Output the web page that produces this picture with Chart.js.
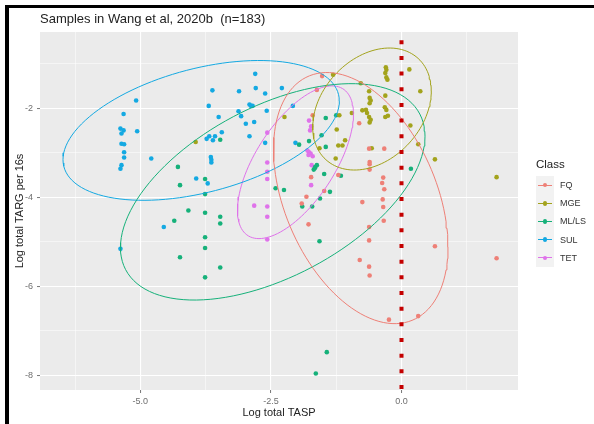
<!DOCTYPE html>
<html>
<head>
<meta charset="utf-8">
<script src="https://cdn.jsdelivr.net/npm/chart.js@4.4.1/dist/chart.umd.min.js"></script>
<style>
  html, body { margin: 0; padding: 0; overflow: hidden; background: #fff; font-family: "Liberation Sans", Arial, sans-serif; }
  #wrap { position: relative; width: 594px; height: 424px; overflow: hidden; }
  #myChart { display: block; }
  #frame { position: absolute; left: 5px; top: 5px; width: 585px; height: 416px;
           border-left: 4px solid #000; border-top: 3px solid #000; pointer-events: none; }
  #legend { position: absolute; left: 536px; top: 156px; color: #222; }
  #legend .ttl { font-size: 11.5px; height: 20px; line-height: 16px; }
  #legend .row { height: 18.2px; display: flex; align-items: center; }
  #legend .key { position: relative; width: 18px; height: 18.2px; background: #f2f2f2; }
  #legend .key .ln { position: absolute; left: 2px; right: 2px; top: 8.6px; height: 1px; }
  #legend .key .pt { position: absolute; left: 6.8px; top: 6.8px; width: 4.6px; height: 4.6px; border-radius: 50%; }
  #legend .lbl { font-size: 9px; margin-left: 6px; color: #333; }
</style>
</head>
<body>
<div id="wrap">
  <canvas id="myChart" width="594" height="424"></canvas>
  <div id="legend"></div>
  <div id="frame"></div>
</div>
<script>
// classes + colours
const classes = ["FQ", "MGE", "ML/LS", "SUL", "TET"];
const classColors = ["#ee8077", "#a3a31c", "#16b17a", "#14a9e2", "#df72ea"];

// log total TASP (x) / log total TARG per 16s (y) for each class
const fqX = [-1.52, -1.62, -0.81, -1.70, -0.62, -0.33, -0.61, -0.61, -0.61, -0.35, -0.37, -0.33, -1.73, -1.21, -1.48, -1.82, -0.36, -0.35, -0.75, -0.34, -0.62, -0.62, -0.80, -0.62, -0.61, 0.64, 1.82, -1.91, -1.78, -0.24, 0.32];
const fqY = [-1.28, -1.59, -2.34, -2.16, -2.91, -2.91, -3.21, -3.26, -3.38, -3.56, -3.68, -3.82, -3.55, -3.50, -3.86, -3.99, -4.05, -4.22, -4.11, -4.53, -4.67, -4.97, -5.41, -5.56, -5.76, -5.10, -5.37, -4.14, -4.61, -6.75, -6.67];

const mgeX = [-1.31, -0.30, -0.29, -0.31, -0.29, -0.27, 0.15, 0.36, -0.78, -0.62, -0.61, -0.59, -0.61, -0.75, -0.68, -0.66, -0.62, -0.59, -0.61, -0.32, -0.29, -0.31, -0.26, -0.31, -0.95, -1.19, -1.24, -1.08, -1.21, -1.13, -1.57, -1.26, -0.57, 0.17, 0.32, 0.64, 1.82, -2.24, -3.94];
const mgeY = [-1.25, -1.08, -1.14, -1.21, -1.31, -1.36, -1.13, -1.62, -1.44, -1.62, -1.77, -1.83, -1.89, -2.05, -2.04, -2.11, -2.20, -2.26, -2.32, -1.98, -2.04, -2.20, -2.17, -1.72, -2.11, -2.16, -2.48, -2.72, -2.84, -2.84, -2.90, -3.13, -2.90, -2.39, -2.81, -3.15, -3.55, -2.20, -2.76];

const mlX = [-4.28, -4.24, -4.08, -4.35, -4.24, -3.76, -3.76, -3.76, -3.76, -3.76, -3.76, -3.47, -3.47, -3.47, -3.47, -2.41, -2.25, -1.96, -1.77, -1.90, -1.71, -1.56, -1.57, -1.45, -1.53, -1.45, -1.25, -1.68, -1.65, -1.62, -1.66, -1.48, -1.16, -1.37, 0.18, -1.43, -1.64];
const mlY = [-3.32, -3.73, -4.30, -4.53, -5.35, -3.59, -3.93, -4.35, -4.90, -5.14, -5.80, -2.71, -4.44, -4.59, -5.58, -3.80, -3.84, -2.82, -2.74, -4.21, -4.21, -4.03, -4.99, -2.22, -2.61, -2.87, -2.16, -3.38, -3.32, -3.28, -3.35, -3.48, -3.52, -3.88, -3.36, -7.48, -7.96];

const sulX = [-5.08, -5.32, -5.38, -5.32, -5.06, -5.36, -5.36, -5.31, -5.31, -5.31, -4.79, -5.36, -5.38, -5.38, -4.55, -2.80, -3.62, -3.11, -2.79, -2.61, -2.29, -3.69, -2.91, -2.88, -2.85, -2.08, -3.50, -3.12, -3.07, -2.58, -2.98, -2.82, -3.44, -3.68, -3.57, -3.73, -3.61, -2.91, -2.61, -3.65, -3.64, -3.64, -3.93, -3.71, -2.03];
const sulY = [-1.83, -2.13, -2.46, -2.50, -2.52, -2.57, -2.80, -2.81, -2.99, -3.11, -3.13, -3.28, -3.36, -5.16, -4.67, -1.23, -1.60, -1.62, -1.55, -1.67, -1.55, -1.95, -1.92, -1.95, -1.95, -1.95, -2.20, -2.07, -2.18, -2.06, -2.35, -2.31, -2.54, -2.63, -2.63, -2.69, -2.72, -2.63, -2.78, -3.10, -3.16, -3.22, -3.58, -3.69, -2.78];

const tetX = [-2.57, -2.57, -2.57, -2.57, -2.82, -2.57, -2.57, -2.57, -1.77, -1.75, -1.73, -1.80, -1.77, -1.74, -1.70, -1.78, -1.72, -1.73];
const tetY = [-2.55, -3.22, -3.43, -3.59, -4.19, -4.21, -4.44, -4.95, -2.28, -2.50, -2.41, -2.95, -2.99, -3.02, -3.08, -3.05, -3.28, -3.73];

// 95% ellipse per class: centre, half width/height (data units), phase of top point
const ellCx = [-0.78, -0.565, -2.465, -3.835, -2.03];
const ellCy = [-4.02, -2.02, -3.88, -2.50, -3.215];
const ellRx = [1.67, 1.135, 2.915, 2.645, 1.11];
const ellRy = [2.82, 1.37, 2.43, 1.57, 1.715];
const ellPhase = [1.97, 1.271, 1.03, 1.139, 0.89];

// reference line
const vlineX = 0;

// axes
const xRange = [-6.92, 2.23];
const yRange = [-8.33, -0.29];
const xMajor = [-5, -2.5, 0];
const xMinor = [-6.25, -3.75, -1.25, 1.25];
const xLabels = ["-5.0", "-2.5", "0.0"];
const yMajor = [-8, -6, -4, -2];
const yMinor = [-7, -5, -3, -1];
const yLabels = ["-8", "-6", "-4", "-2"];

function toPoints(xs, ys) {
  return xs.map((x, i) => ({ x: x, y: ys[i] }));
}

function ellipsePoints(i) {
  var pts = [];
  var n = 120;
  for (var k = 0; k <= n; k++) {
    var t = (2 * Math.PI * k) / n;
    pts.push({
      x: ellCx[i] + ellRx[i] * Math.cos(t),
      y: ellCy[i] + ellRy[i] * Math.cos(t - ellPhase[i]),
    });
  }
  return pts;
}

const seriesX = [fqX, mgeX, mlX, sulX, tetX];
const seriesY = [fqY, mgeY, mlY, sulY, tetY];

var datasets = [];

// dotted red line on top
datasets.push({
  type: "line",
  data: [{ x: vlineX, y: yRange[1] }, { x: vlineX, y: yRange[0] }],
  borderColor: "#c40000",
  borderWidth: 4,
  borderDash: [4, 11.67],
  borderDashOffset: 7.4,
  borderCapStyle: "butt",
  pointRadius: 0,
  fill: false,
  order: 0,
});

for (var i = 0; i < classes.length; i++) {
  datasets.push({
    type: "line",
    label: classes[i] + " ellipse",
    data: ellipsePoints(i),
    borderColor: classColors[i],
    borderWidth: 1,
    pointRadius: 0,
    tension: 0,
    fill: false,
    order: 1,
  });
  datasets.push({
    type: "scatter",
    label: classes[i],
    data: toPoints(seriesX[i], seriesY[i]),
    backgroundColor: classColors[i],
    borderWidth: 0,
    pointRadius: 2.3,
    order: 2,
  });
}

// grey panel behind the plot
const panelBg = {
  id: "panelBg",
  beforeDraw(chart) {
    const a = chart.chartArea;
    const ctx = chart.ctx;
    ctx.save();
    ctx.fillStyle = "#ebebeb";
    ctx.fillRect(a.left, a.top, a.right - a.left, a.bottom - a.top);
    ctx.restore();
  },
};

function isMajor(list, v) {
  return list.some((m) => Math.abs(m - v) < 1e-6);
}

var ctx = document.getElementById("myChart").getContext("2d");
var myChart = new Chart(ctx, {
  data: { datasets: datasets },
  plugins: [panelBg],
  options: {
    responsive: false,
    animation: false,
    layout: { padding: { left: 0, right: 76, top: 0, bottom: 0 } },
    plugins: {
      legend: { display: false },
      tooltip: { enabled: false },
      title: {
        display: true,
        text: "Samples in Wang et al, 2020b  (n=183)",
        align: "start",
        fullSize: false,
        color: "#222",
        font: { family: "Liberation Sans", size: 13, weight: "normal" },
        padding: { top: 12, bottom: 4.4 },
      },
    },
    scales: {
      x: {
        type: "linear",
        min: xRange[0],
        max: xRange[1],
        afterBuildTicks: (s) => {
          s.ticks = xMajor.concat(xMinor).sort((a, b) => a - b).map((v) => ({ value: v }));
        },
        afterFit: (s) => {
          s.height = 34;
        },
        ticks: {
          autoSkip: false,
          maxRotation: 0,
          padding: 3,
          color: "#6e6e6e",
          font: { family: "Liberation Sans", size: 9 },
          callback: (v) => {
            var k = xMajor.findIndex((m) => Math.abs(m - v) < 1e-6);
            return k >= 0 ? xLabels[k] : "";
          },
        },
        grid: {
          color: "#ffffff",
          lineWidth: (c) => (c.tick && isMajor(xMajor, c.tick.value) ? 1.1 : 0.5),
          tickColor: (c) => (c.tick && isMajor(xMajor, c.tick.value) ? "#777" : "rgba(0,0,0,0)"),
          tickWidth: 1,
          tickLength: 3,
        },
        border: { display: false },
        title: {
          display: true,
          text: "Log total TASP",
          color: "#222",
          font: { family: "Liberation Sans", size: 11 },
          padding: { top: 0, bottom: 4 },
        },
      },
      y: {
        type: "linear",
        min: yRange[0],
        max: yRange[1],
        afterBuildTicks: (s) => {
          s.ticks = yMajor.concat(yMinor).sort((a, b) => a - b).map((v) => ({ value: v }));
        },
        afterFit: (s) => {
          s.width = 40;
        },
        ticks: {
          autoSkip: false,
          padding: 4,
          color: "#6e6e6e",
          font: { family: "Liberation Sans", size: 9 },
          callback: (v) => {
            var k = yMajor.findIndex((m) => Math.abs(m - v) < 1e-6);
            return k >= 0 ? yLabels[k] : "";
          },
        },
        grid: {
          color: "#ffffff",
          lineWidth: (c) => (c.tick && isMajor(yMajor, c.tick.value) ? 1.1 : 0.5),
          tickColor: (c) => (c.tick && isMajor(yMajor, c.tick.value) ? "#777" : "rgba(0,0,0,0)"),
          tickWidth: 1,
          tickLength: 3,
        },
        border: { display: false },
        title: {
          display: true,
          text: "Log total TARG per 16s",
          color: "#222",
          font: { family: "Liberation Sans", size: 11 },
          padding: { top: 13, bottom: 0 },
        },
      },
    },
  },
});

// legend on the right
const legend = document.getElementById("legend");
legend.innerHTML = `<div class="ttl">Class</div>`;
classes.forEach((c, i) => {
  legend.innerHTML +=
    `<div class="row"><div class="key"><div class="ln" style="background:` +
    classColors[i] +
    `"></div><div class="pt" style="background:` +
    classColors[i] +
    `"></div></div><span class="lbl">` +
    c +
    `</span></div>`;
});
</script>
</body>
</html>
